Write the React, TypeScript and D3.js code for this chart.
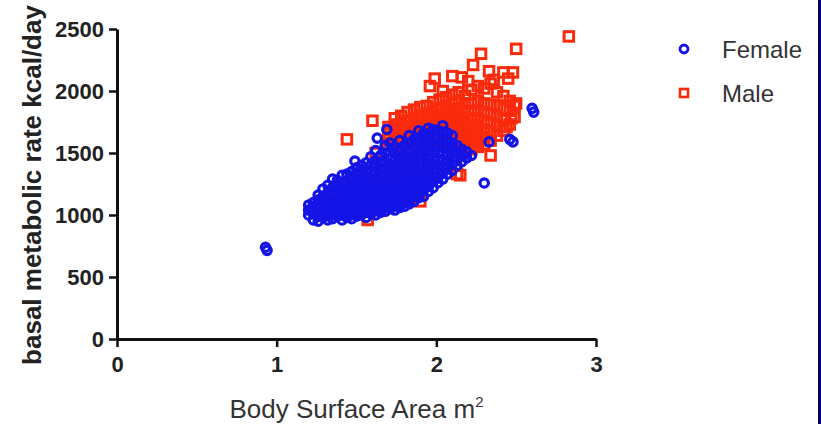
import React, { useEffect, useRef } from 'react';
import * as d3 from 'd3';

// axis ticks and legend
const xTicks = [0, 1, 2, 3];
const yTicks = [0, 500, 1000, 1500, 2000, 2500];
const seriesNames = ['Female', 'Male'];

// [body surface area m2, basal metabolic rate kcal/day]
const femalePoints: [number, number][] = [
  [0.93, 740], [0.94, 715],
  [1.20, 1000], [1.20, 1040], [1.20, 1080],
  [1.23, 960], [1.23, 1010], [1.23, 1060], [1.23, 1100],
  [1.26, 950], [1.26, 990], [1.26, 1030], [1.26, 1070], [1.26, 1120], [1.26, 1160],
  [1.29, 980], [1.29, 1020], [1.29, 1060], [1.29, 1100], [1.29, 1150], [1.29, 1210],
  [1.32, 960], [1.32, 1000], [1.32, 1050], [1.32, 1090], [1.32, 1130], [1.32, 1180], [1.32, 1240],
  [1.35, 970], [1.35, 1010], [1.35, 1040], [1.35, 1080], [1.35, 1120], [1.35, 1170], [1.35, 1220], [1.35, 1290],
  [1.38, 990], [1.38, 1030], [1.38, 1070], [1.38, 1110], [1.38, 1150], [1.38, 1190], [1.38, 1240], [1.38, 1280],
  [1.41, 960], [1.41, 1000], [1.41, 1050], [1.41, 1090], [1.41, 1130], [1.41, 1170], [1.41, 1210], [1.41, 1260], [1.41, 1320],
  [1.44, 980], [1.44, 1020], [1.44, 1060], [1.44, 1100], [1.44, 1140], [1.44, 1180], [1.44, 1230], [1.44, 1270], [1.44, 1330],
  [1.47, 970], [1.47, 1010], [1.47, 1050], [1.47, 1090], [1.47, 1130], [1.47, 1170], [1.47, 1210], [1.47, 1250], [1.47, 1300], [1.47, 1350],
  [1.49, 1435],
  [1.50, 990], [1.50, 1030], [1.50, 1070], [1.50, 1110], [1.50, 1150], [1.50, 1190], [1.50, 1230], [1.50, 1280], [1.50, 1330], [1.50, 1380],
  [1.53, 1000], [1.53, 1040], [1.53, 1080], [1.53, 1120], [1.53, 1160], [1.53, 1200], [1.53, 1250], [1.53, 1290], [1.53, 1340], [1.53, 1400],
  [1.56, 980], [1.56, 1020], [1.56, 1060], [1.56, 1100], [1.56, 1140], [1.56, 1180], [1.56, 1220], [1.56, 1270], [1.56, 1310], [1.56, 1360], [1.56, 1420],
  [1.59, 1010], [1.59, 1050], [1.59, 1090], [1.59, 1130], [1.59, 1170], [1.59, 1210], [1.59, 1250], [1.59, 1300], [1.59, 1350], [1.59, 1400], [1.59, 1470],
  [1.62, 1000], [1.62, 1040], [1.62, 1080], [1.62, 1120], [1.62, 1160], [1.62, 1200], [1.62, 1240], [1.62, 1290], [1.62, 1340], [1.62, 1390], [1.62, 1440], [1.62, 1520],
  [1.63, 1620],
  [1.65, 1020], [1.65, 1060], [1.65, 1100], [1.65, 1140], [1.65, 1180], [1.65, 1230], [1.65, 1270], [1.65, 1320], [1.65, 1370], [1.65, 1420], [1.65, 1480],
  [1.68, 1030], [1.68, 1070], [1.68, 1110], [1.68, 1150], [1.68, 1190], [1.68, 1230], [1.68, 1280], [1.68, 1330], [1.68, 1380], [1.68, 1430], [1.68, 1500], [1.68, 1560],
  [1.69, 1690],
  [1.71, 1050], [1.71, 1090], [1.71, 1130], [1.71, 1170], [1.71, 1210], [1.71, 1260], [1.71, 1300], [1.71, 1350], [1.71, 1400], [1.71, 1450], [1.71, 1510], [1.71, 1580],
  [1.74, 1040], [1.74, 1080], [1.74, 1120], [1.74, 1160], [1.74, 1200], [1.74, 1250], [1.74, 1300], [1.74, 1340], [1.74, 1390], [1.74, 1440], [1.74, 1490], [1.74, 1550],
  [1.77, 1060], [1.77, 1100], [1.77, 1140], [1.77, 1180], [1.77, 1230], [1.77, 1270], [1.77, 1320], [1.77, 1370], [1.77, 1420], [1.77, 1470], [1.77, 1530], [1.77, 1600],
  [1.80, 1070], [1.80, 1110], [1.80, 1150], [1.80, 1200], [1.80, 1240], [1.80, 1290], [1.80, 1330], [1.80, 1380], [1.80, 1430], [1.80, 1490], [1.80, 1560],
  [1.83, 1090], [1.83, 1130], [1.83, 1170], [1.83, 1210], [1.83, 1260], [1.83, 1300], [1.83, 1350], [1.83, 1400], [1.83, 1450], [1.83, 1510], [1.83, 1580], [1.83, 1640],
  [1.86, 1110], [1.86, 1150], [1.86, 1190], [1.86, 1240], [1.86, 1280], [1.86, 1330], [1.86, 1380], [1.86, 1430], [1.86, 1480], [1.86, 1540], [1.86, 1610],
  [1.89, 1140], [1.89, 1180], [1.89, 1220], [1.89, 1260], [1.89, 1310], [1.89, 1350], [1.89, 1400], [1.89, 1450], [1.89, 1500], [1.89, 1560], [1.89, 1620], [1.89, 1680],
  [1.92, 1150], [1.92, 1200], [1.92, 1250], [1.92, 1300], [1.92, 1340], [1.92, 1390], [1.92, 1440], [1.92, 1490], [1.92, 1550], [1.92, 1600], [1.92, 1660],
  [1.95, 1190], [1.95, 1230], [1.95, 1280], [1.95, 1320], [1.95, 1370], [1.95, 1420], [1.95, 1470], [1.95, 1530], [1.95, 1590], [1.95, 1640], [1.95, 1700],
  [1.98, 1220], [1.98, 1270], [1.98, 1310], [1.98, 1360], [1.98, 1410], [1.98, 1460], [1.98, 1510], [1.98, 1570], [1.98, 1630], [1.98, 1690],
  [2.01, 1260], [2.01, 1300], [2.01, 1350], [2.01, 1400], [2.01, 1450], [2.01, 1500], [2.01, 1560], [2.01, 1620], [2.01, 1680],
  [2.04, 1290], [2.04, 1340], [2.04, 1390], [2.04, 1440], [2.04, 1490], [2.04, 1550], [2.04, 1610], [2.04, 1670], [2.04, 1720],
  [2.07, 1330], [2.07, 1380], [2.07, 1430], [2.07, 1480], [2.07, 1540], [2.07, 1600], [2.07, 1660],
  [2.10, 1360], [2.10, 1410], [2.10, 1460], [2.10, 1520], [2.10, 1580], [2.10, 1640],
  [2.13, 1400], [2.13, 1450], [2.13, 1500], [2.13, 1560],
  [2.16, 1430], [2.16, 1480], [2.16, 1530],
  [2.19, 1460], [2.19, 1510],
  [2.22, 1480],
  [2.30, 1258], [2.33, 1590], [2.46, 1610], [2.48, 1590],
  [2.60, 1860], [2.61, 1830],
];

const malePoints: [number, number][] = [
  [1.44, 1610], [1.60, 1760], [1.57, 960], [1.62, 1500], [1.90, 1110],
  [1.60, 1250], [1.70, 1300], [1.75, 1380], [1.85, 1350], [1.50, 1200], [1.65, 1400],
  [1.70, 1560], [1.70, 1610], [1.70, 1660], [1.70, 1710],
  [1.74, 1530], [1.74, 1580], [1.74, 1630], [1.74, 1680], [1.74, 1730], [1.74, 1780],
  [1.78, 1490], [1.78, 1540], [1.78, 1590], [1.78, 1640], [1.78, 1690], [1.78, 1740], [1.78, 1800],
  [1.82, 1460], [1.82, 1510], [1.82, 1560], [1.82, 1610], [1.82, 1660], [1.82, 1710], [1.82, 1760], [1.82, 1830],
  [1.86, 1480], [1.86, 1530], [1.86, 1580], [1.86, 1630], [1.86, 1680], [1.86, 1730], [1.86, 1780], [1.86, 1850],
  [1.90, 1500], [1.90, 1550], [1.90, 1600], [1.90, 1650], [1.90, 1700], [1.90, 1750], [1.90, 1800], [1.90, 1870],
  [1.94, 1520], [1.94, 1570], [1.94, 1620], [1.94, 1670], [1.94, 1720], [1.94, 1770], [1.94, 1820], [1.94, 1880],
  [1.98, 1540], [1.98, 1590], [1.98, 1640], [1.98, 1690], [1.98, 1740], [1.98, 1790], [1.98, 1840], [1.98, 1910],
  [2.02, 1560], [2.02, 1610], [2.02, 1660], [2.02, 1710], [2.02, 1760], [2.02, 1810], [2.02, 1860], [2.02, 1930],
  [2.06, 1580], [2.06, 1630], [2.06, 1680], [2.06, 1730], [2.06, 1780], [2.06, 1830], [2.06, 1880], [2.06, 1950],
  [2.10, 1600], [2.10, 1650], [2.10, 1700], [2.10, 1750], [2.10, 1800], [2.10, 1850], [2.10, 1900], [2.10, 1970],
  [2.14, 1560], [2.14, 1610], [2.14, 1660], [2.14, 1710], [2.14, 1760], [2.14, 1810], [2.14, 1860], [2.14, 1920], [2.14, 1990],
  [2.18, 1540], [2.18, 1590], [2.18, 1640], [2.18, 1690], [2.18, 1740], [2.18, 1790], [2.18, 1840], [2.18, 1900], [2.18, 1960],
  [2.22, 1530], [2.22, 1580], [2.22, 1630], [2.22, 1680], [2.22, 1730], [2.22, 1780], [2.22, 1840], [2.22, 1900], [2.22, 2010],
  [2.26, 1550], [2.26, 1600], [2.26, 1660], [2.26, 1720], [2.26, 1780], [2.26, 1840], [2.26, 1920], [2.26, 2040],
  [2.30, 1570], [2.30, 1630], [2.30, 1690], [2.30, 1760], [2.30, 1830], [2.30, 1900], [2.30, 2020],
  [2.34, 1600], [2.34, 1670], [2.34, 1740], [2.34, 1810], [2.34, 1890], [2.34, 2060],
  [2.38, 1640], [2.38, 1720], [2.38, 1800], [2.38, 1880], [2.38, 1990],
  [2.42, 1680], [2.42, 1770], [2.42, 1860], [2.42, 1960],
  [2.46, 1730], [2.46, 1840], [2.46, 1920],
  [2.49, 1790], [2.49, 1880],
  [2.83, 2440], [2.50, 2340], [2.28, 2300], [2.23, 2210], [2.48, 2150], [2.42, 2150],
  [2.33, 2160], [2.10, 2120], [2.16, 2110], [1.99, 2100], [1.96, 2040], [2.04, 2000],
  [2.20, 2080], [2.36, 2090], [2.45, 2100], [2.50, 1900], [2.47, 1780], [2.44, 1710],
  [2.04, 1380], [2.13, 1330], [2.15, 1320], [2.34, 1480], [2.00, 1370], [1.85, 1450], [1.80, 1420],
];

const FONT = 'Arial, "Liberation Sans", Helvetica, sans-serif';
const W = 821;
const H = 424;
const BLUE = '#1414e6';
const RED = '#fa2a0c';

export default function App() {
  const xAxisRef = useRef<SVGGElement>(null);
  const yAxisRef = useRef<SVGGElement>(null);

  const x = d3.scaleLinear().domain([0, 3]).range([117, 596]);
  const y = d3.scaleLinear().domain([0, 2500]).range([339, 29]);

  useEffect(() => {
    const xAxis = d3.axisBottom(x).tickValues(xTicks).tickSize(8).tickSizeOuter(0).tickPadding(9).tickFormat(d3.format('d'));
    const yAxis = d3.axisLeft(y).tickValues(yTicks).tickSize(8).tickSizeOuter(0).tickPadding(5).tickFormat(d3.format('d'));

    const gx = d3.select(xAxisRef.current);
    gx.selectAll('*').remove();
    gx.call(xAxis as any);
    const gy = d3.select(yAxisRef.current);
    gy.selectAll('*').remove();
    gy.call(yAxis as any);

    [gx, gy].forEach(g => {
      g.attr('font-family', FONT).attr('font-size', 22).attr('font-weight', 'bold');
      g.select('.domain').attr('stroke', '#111').attr('stroke-width', 3);
      g.selectAll('.tick line').attr('stroke', '#111').attr('stroke-width', 2.5);
      g.selectAll('.tick text').attr('fill', '#222');
    });
  }, []);

  const sq = 9.5;

  return (
    <svg width={W} height={H} style={{ position: 'absolute', left: 0, top: 0, background: '#fff' }}>
      <rect x={0} y={0} width={W} height={H} fill="#fff" />

      {/* male squares first, female circles drawn on top */}
      <g fill="none" stroke={RED} strokeWidth={3}>
        {malePoints.map((d, i) => (
          <rect key={i} x={x(d[0]) - sq / 2} y={y(d[1]) - sq / 2} width={sq} height={sq} />
        ))}
      </g>
      <g fill="none" stroke={BLUE} strokeWidth={3.2}>
        {femalePoints.map((d, i) => (
          <circle key={i} cx={x(d[0])} cy={y(d[1])} r={4.2} />
        ))}
      </g>

      <g ref={yAxisRef} transform={`translate(${x(0)},0)`} />
      <g ref={xAxisRef} transform={`translate(0,${y(0)})`} />

      <text transform={`translate(41,185) rotate(-90)`} textAnchor="middle"
        fontFamily={FONT} fontSize={26} fontWeight="bold" fill="#222">
        basal metabolic rate kcal/day
      </text>
      <text x={(x(0) + x(3)) / 2} y={418} textAnchor="middle" fontFamily={FONT} fontSize={26} fill="#333">
        Body Surface Area m<tspan dy={-11} fontSize={15}>2</tspan>
      </text>

      {/* legend */}
      {seriesNames.map((name, i) => (
        <g key={name} transform={`translate(684,${49 + i * 44})`}>
          {i === 0
            ? <circle r={4} fill="none" stroke={BLUE} strokeWidth={2.8} />
            : <rect x={-4} y={-4} width={8} height={8} fill="none" stroke={RED} strokeWidth={2.6} />}
          <text x={38} y={9} fontFamily={FONT} fontSize={24} fill="#333">{name}</text>
        </g>
      ))}

      <rect x={818} y={0} width={3} height={H} fill="#00006e" />
    </svg>
  );
}
